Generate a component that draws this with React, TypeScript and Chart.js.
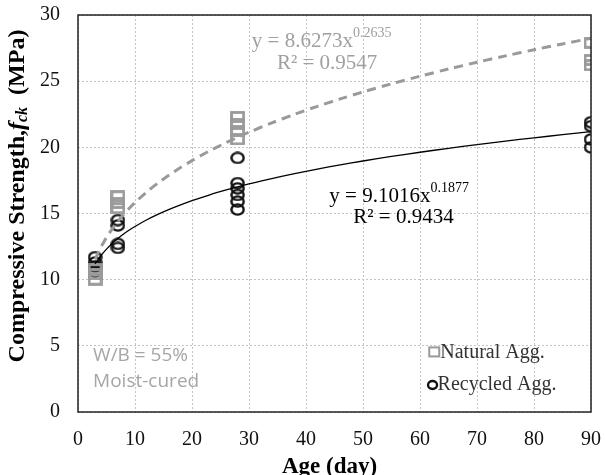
import React, { useEffect, useRef } from "react";
import { Chart, registerables } from "chart.js";
Chart.register(...registerables);

// ---- data ----
const naturalAge = [3, 3, 3, 7, 7, 7, 28, 28, 28, 28, 90, 90, 90];
const naturalStrength = [10.0, 10.4, 10.8, 15.4, 15.8, 16.3, 20.6, 21.2, 21.8, 22.3, 26.2, 26.6, 27.9];
const recycledAge = [3, 3, 3, 3, 7, 7, 7, 7, 28, 28, 28, 28, 28, 28, 90, 90, 90, 90];
const recycledStrength = [10.6, 11.0, 11.3, 11.7, 12.4, 12.7, 14.1, 14.5, 15.3, 15.9, 16.4, 16.9, 17.3, 19.2, 20.0, 20.6, 21.6, 21.9];
// power trendlines y = a x^b as printed on the chart
const naturalFit = { a: 8.6273, b: 0.2635, r2: 0.9547 };
const recycledFit = { a: 9.1016, b: 0.1877, r2: 0.9434 };
const trendAges = [3, 4, 5, 6, 7, 8, 9, 10, 12, 14, 16, 18, 20, 23, 26, 28, 30, 34, 38, 42, 46, 50, 55, 60, 65, 70, 75, 80, 85, 90];
const xTicks = [0, 10, 20, 30, 40, 50, 60, 70, 80, 90];
const yTicks = [0, 5, 10, 15, 20, 25, 30];

const SERIF = "'Liberation Serif', 'Times New Roman', serif";
const SANS = "'Open Sans', 'Noto Sans', sans-serif";
const GRAY = "#9a9a9a";

function makeSquare(): HTMLCanvasElement {
  const c = document.createElement("canvas");
  c.width = 15; c.height = 12;
  const g = c.getContext("2d")!;
  g.strokeStyle = GRAY;
  g.lineWidth = 2.8;
  g.strokeRect(1.5, 1.5, 12, 9);
  return c;
}
function makeCircle(): HTMLCanvasElement {
  const c = document.createElement("canvas");
  c.width = 15; c.height = 13;
  const g = c.getContext("2d")!;
  g.strokeStyle = "#111";
  g.lineWidth = 2.4;
  g.beginPath();
  g.ellipse(7.5, 6.5, 6.1, 5.1, 0, 0, Math.PI * 2);
  g.stroke();
  return c;
}

const textPlugin = {
  id: "textPlugin",
  afterDraw(chart: any) {
    const { ctx, chartArea: ca, scales } = chart;
    const xs = scales.x, ys = scales.y;
    const px = (v: number) => xs.getPixelForValue(v);
    const py = (v: number) => ys.getPixelForValue(v);
    ctx.save();
    // border
    ctx.strokeStyle = "#222";
    ctx.lineWidth = 1.5;
    ctx.strokeRect(ca.left, ca.top, ca.right - ca.left, ca.bottom - ca.top);

    // equation helper
    const eq = (x: number, y: number, fit: any, color: string, r2x: number, r2y: number) => {
      ctx.fillStyle = color;
      ctx.textBaseline = "alphabetic";
      ctx.textAlign = "left";
      ctx.font = `21px ${SERIF}`;
      const main = `y = ${fit.a.toFixed(4)}x`;
      ctx.fillText(main, px(x), py(y));
      const w = ctx.measureText(main).width;
      ctx.font = `14px ${SERIF}`;
      ctx.fillText(fit.b.toFixed(4), px(x) + w, py(y) - 10);
      ctx.font = `21px ${SERIF}`;
      ctx.textAlign = "center";
      ctx.fillText(`R² = ${fit.r2.toFixed(4)}`, px(r2x), py(r2y));
    };
    eq(30.5, 27.6, naturalFit, "#a0a0a0", 43.7, 25.9);
    eq(44.1, 15.9, recycledFit, "#000", 57.1, 14.3);

    // W/B note
    ctx.fillStyle = "#a6a6a6";
    ctx.font = `19px ${SANS}`;
    ctx.textAlign = "left";
    ctx.textBaseline = "middle";
    ctx.fillText("W/B = 55%", px(2.65), py(4.23));
    ctx.fillText("Moist-cured", px(2.65), py(2.27));

    // legend
    ctx.font = `20px ${SERIF}`;
    ctx.textBaseline = "middle";
    const sx = px(62.5), sy = py(4.54);
    const cx0 = px(62.2), cy0 = py(2.04);
    ctx.strokeStyle = GRAY;
    ctx.lineWidth = 2;
    ctx.strokeRect(sx - 5, sy - 4.5, 10, 9);
    ctx.strokeStyle = "#111";
    ctx.lineWidth = 2.4;
    ctx.beginPath();
    ctx.ellipse(cx0, cy0, 4.5, 4, 0, 0, Math.PI * 2);
    ctx.stroke();
    ctx.fillStyle = "#333";
    ctx.fillText("Natural Agg.", sx + 6, sy + 1);
    ctx.fillText("Recycled Agg.", cx0 + 5, cy0);

    // x title
    ctx.fillStyle = "#000";
    ctx.font = `bold 23px ${SERIF}`;
    ctx.textAlign = "center";
    ctx.textBaseline = "alphabetic";
    ctx.fillText("Age (day)", (ca.left + ca.right) / 2 - 5, 473);

    // y title rotated
    ctx.translate(18, 196);
    ctx.rotate(-Math.PI / 2);
    const parts = [
      { t: "Compressive Strength,", f: `bold 24px ${SERIF}`, dy: 0 },
      { t: "f", f: `italic bold 24px ${SERIF}`, dy: 0 },
      { t: "ck", f: `italic bold 16px ${SERIF}`, dy: 5 },
      { t: "  (MPa)", f: `bold 24px ${SERIF}`, dy: 0 },
    ];
    let total = 0;
    for (const p of parts) { ctx.font = p.f; total += ctx.measureText(p.t).width; }
    let cx = -total / 2;
    ctx.textAlign = "left";
    ctx.textBaseline = "middle";
    for (const p of parts) {
      ctx.font = p.f;
      ctx.fillText(p.t, cx, p.dy);
      cx += ctx.measureText(p.t).width;
    }
    ctx.restore();
  },
};

export default function App() {
  const ref = useRef<HTMLCanvasElement>(null);
  useEffect(() => {
    document.body.style.margin = "0";
    const trend = (fit: any) => trendAges.map((x) => ({ x, y: fit.a * Math.pow(x, fit.b) }));
    const sq = makeSquare();
    const ci = makeCircle();
    const chart = new Chart(ref.current!, {
      type: "scatter",
      data: {
        datasets: [
          {
            label: "Natural trend",
            type: "line",
            data: trend(naturalFit),
            borderColor: GRAY,
            borderWidth: 3,
            borderDash: [9, 6],
            pointRadius: 0,
            tension: 0.3,
            fill: false,
          } as any,
          {
            label: "Recycled trend",
            type: "line",
            data: trend(recycledFit),
            borderColor: "#000",
            borderWidth: 1.3,
            pointRadius: 0,
            tension: 0.3,
            fill: false,
          } as any,
          {
            label: "Natural Agg.",
            data: naturalAge.map((x, i) => ({ x, y: naturalStrength[i] })),
            pointStyle: sq,
            pointRadius: 6,
          } as any,
          {
            label: "Recycled Agg.",
            data: recycledAge.map((x, i) => ({ x, y: recycledStrength[i] })),
            pointStyle: ci,
            pointRadius: 6,
          } as any,
        ],
      },
      options: {
        animation: false,
        responsive: false,
        layout: { padding: { left: 0, right: 14, top: 15, bottom: 0 } },
        plugins: { legend: { display: false }, tooltip: { enabled: false } },
        scales: {
          x: {
            type: "linear",
            min: 0,
            max: 90,
            afterFit: (s: any) => { s.height = 63; s.paddingLeft = 0; s.paddingRight = 0; },
            afterBuildTicks: (s: any) => { s.ticks = xTicks.map((v) => ({ value: v })); },
            ticks: { font: { family: SERIF, size: 20 }, color: "#111", padding: 16 },
            grid: { color: "#c4c4c4", drawTicks: false, lineWidth: 1 },
            border: { display: false, dash: [2, 2] },
          },
          y: {
            type: "linear",
            min: 0,
            max: 30,
            afterFit: (s: any) => { s.width = 78; s.paddingTop = 0; s.paddingBottom = 0; },
            afterBuildTicks: (s: any) => { s.ticks = yTicks.map((v) => ({ value: v })); },
            ticks: { font: { family: SERIF, size: 20 }, color: "#111", padding: 18 },
            grid: { color: "#c4c4c4", drawTicks: false, lineWidth: 1 },
            border: { display: false, dash: [2, 2] },
          },
        },
      },
      plugins: [textPlugin],
    });
    return () => chart.destroy();
  }, []);
  return (
    <div style={{ position: "relative", width: 605, height: 475, background: "#fff" }}>
      <canvas ref={ref} width={605} height={475} style={{ width: 605, height: 475 }} />
    </div>
  );
}
